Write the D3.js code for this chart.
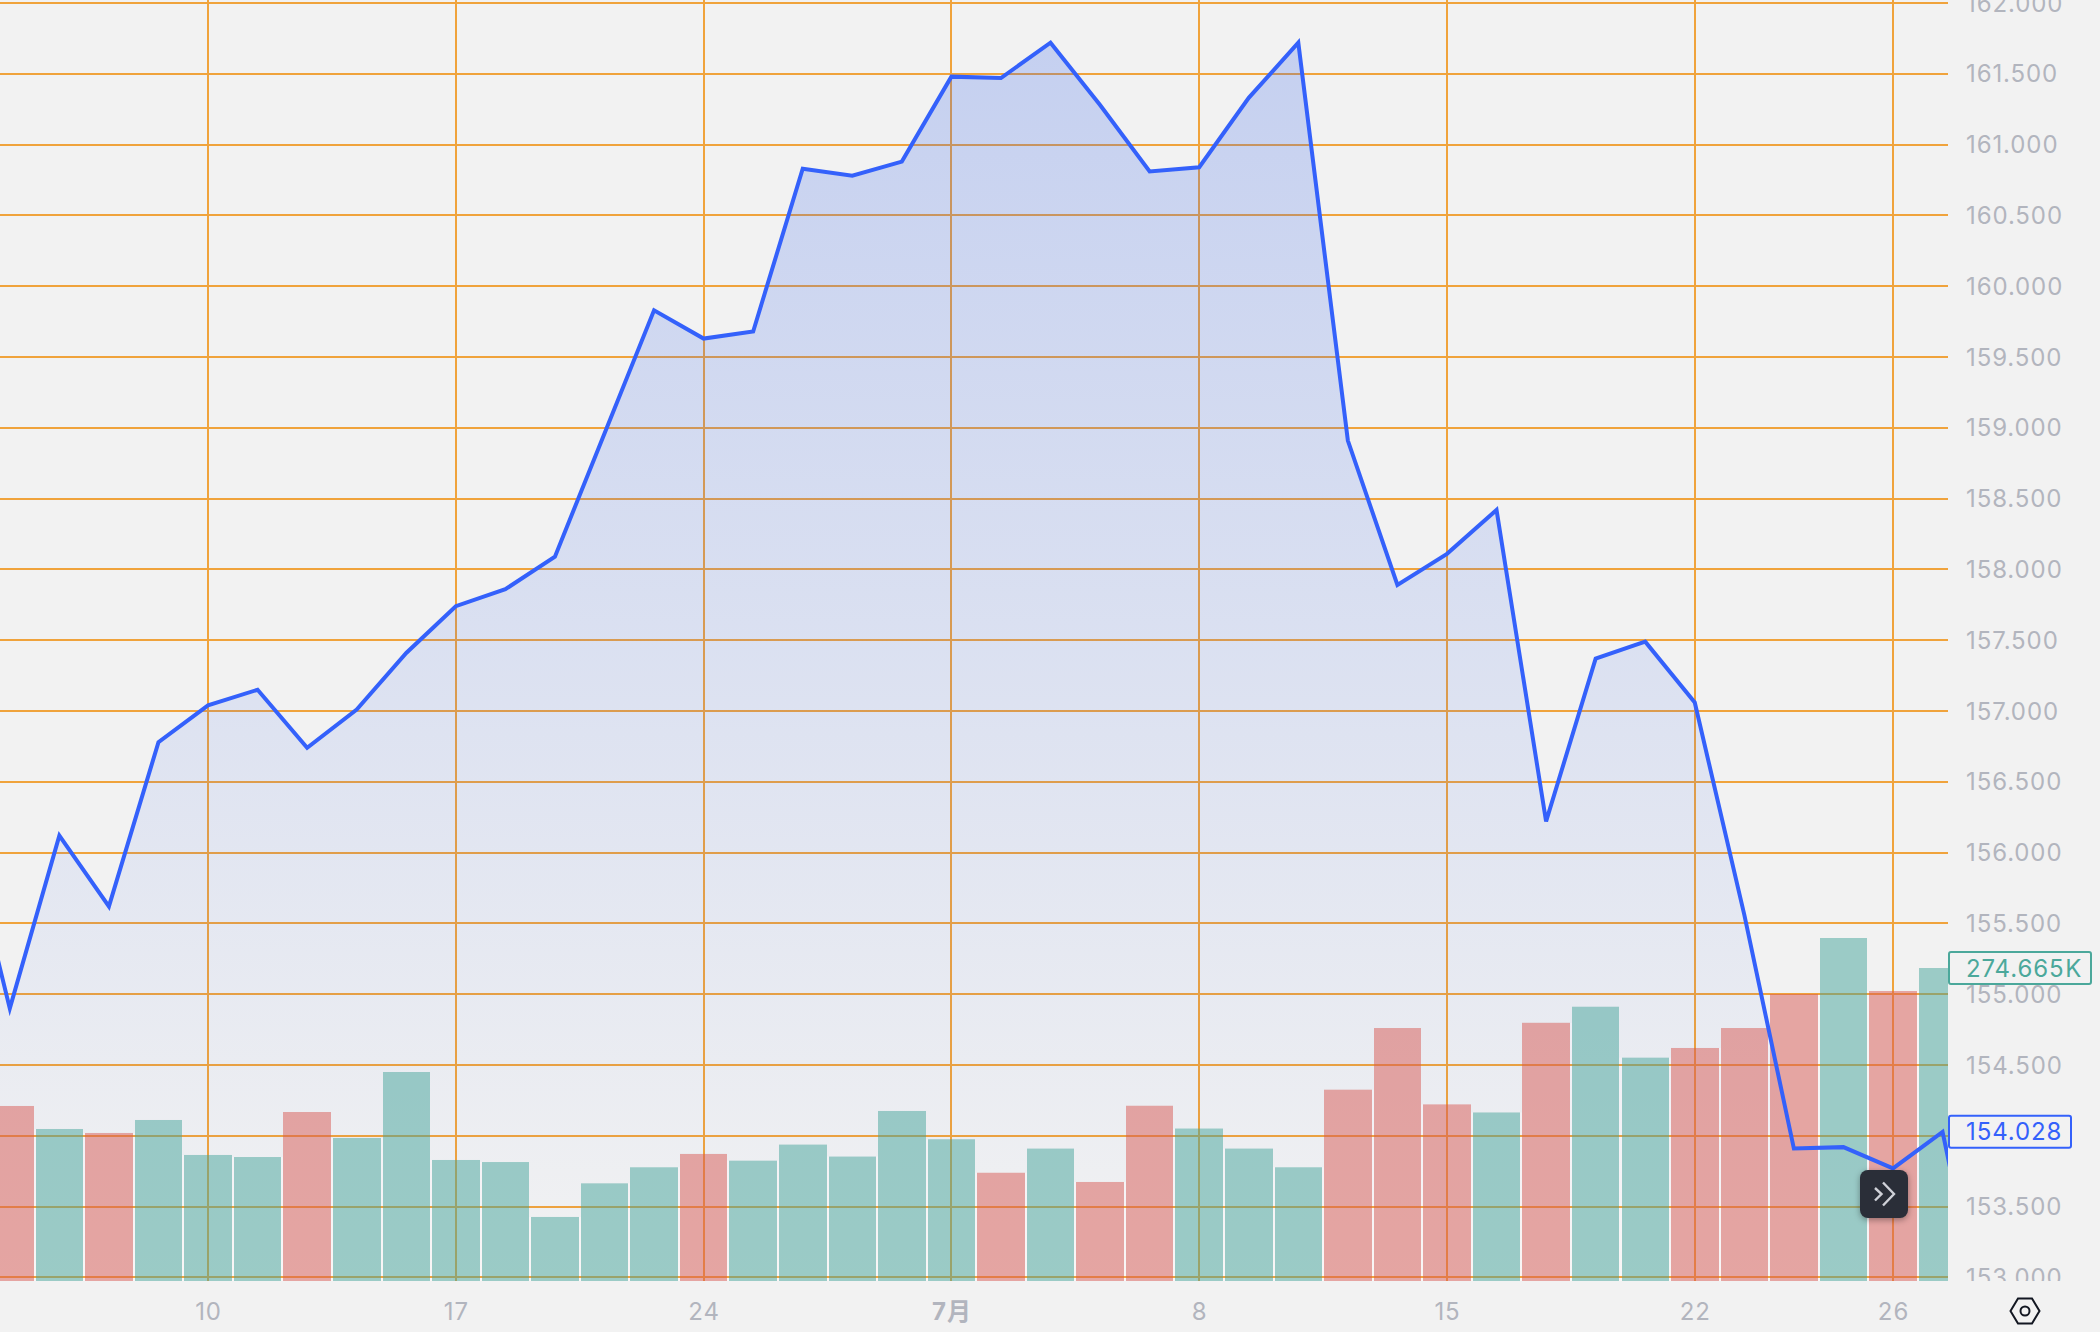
<!DOCTYPE html>
<html lang="ja">
<head>
<meta charset="utf-8">
<title>Chart</title>
<script src="https://cdn.jsdelivr.net/npm/d3@7/dist/d3.min.js"></script>
<style>
html,body{margin:0;padding:0;background:#f2f2f2;}
svg{display:block;}
text{font-family:Inter,"Noto Sans CJK JP",sans-serif;letter-spacing:0.9px;}
</style>
</head>
<body>
<div id="chart"></div>
<script>
// index -1 sits just off the left edge, index 40 just off the right edge
const firstIndex = -1;
const prices = [156.33,154.90,156.12,155.62,156.78,157.04,157.15,156.74,157.01,157.41,157.74,157.86,158.09,158.96,159.83,159.63,159.68,160.83,160.78,160.88,161.48,161.47,161.72,161.28,160.81,160.84,161.33,161.72,158.91,157.89,158.11,158.42,156.22,157.37,157.49,157.06,155.56,153.91,153.92,153.77,154.028,152.36];
const volumes = [153.6,133.4,129.9,141.3,110.6,108.8,148.3,125.5,183.4,106.2,104.4,56.2,85.7,99.8,111.5,105.6,119.7,109.2,149.2,124.4,95.0,116.2,86.9,153.8,133.8,116.2,99.8,167.9,222.0,155.0,147.9,226.6,240.7,196.0,204.5,222.0,251.9,301.0,254.5,274.665];
const volumeDown = [1,0,1,0,0,0,1,0,0,0,0,0,0,0,1,0,0,0,0,0,1,0,1,1,0,0,0,1,1,1,0,1,0,0,1,1,1,0,1,0];
const dateTickIndexes = [4,9,14,19,24,29,34,38];
const dateTickLabels = ["10","17","24","7月","8","15","22","26"];
const priceTicks = d3.range(153,162.01,0.5);
const lastPrice = 154.028;
const lastVolumeLabel = "274.665 K";

const W=2100,H=1332,plotR=1948,plotB=1281;
const x=d3.scaleLinear().domain([0,38]).range([9.8,1893]);
const y=d3.scaleLinear().domain([153,162]).range([1277.4,3]);
const yVol=d3.scaleLinear().domain([0,1124.2]).range([plotB,0]);

const svg=d3.select("#chart").append("svg").attr("width",W).attr("height",H).attr("viewBox",`0 0 ${W} ${H}`);
const defs=svg.append("defs");
defs.append("clipPath").attr("id","plot").append("rect").attr("width",plotR).attr("height",plotB);
defs.append("clipPath").attr("id","axisClip").append("rect").attr("x",plotR).attr("width",W-plotR).attr("height",plotB);
const grad=defs.append("linearGradient").attr("id","areaFill").attr("gradientUnits","userSpaceOnUse")
  .attr("x1",0).attr("x2",0).attr("y1",43).attr("y2",plotB);
grad.append("stop").attr("offset",0).attr("stop-color","rgb(46,94,233)").attr("stop-opacity",0.23);
grad.append("stop").attr("offset",1).attr("stop-color","rgb(46,94,233)").attr("stop-opacity",0);
const sh=defs.append("filter").attr("id","btnShadow").attr("x","-40%").attr("y","-40%").attr("width","180%").attr("height","180%");
sh.append("feDropShadow").attr("dx",0).attr("dy",2).attr("stdDeviation",3).attr("flood-color","#000").attr("flood-opacity",0.35);

svg.append("rect").attr("width",W).attr("height",H).attr("fill","#f2f2f2");

const plot=svg.append("g").attr("clip-path","url(#plot)");

// slim light gaps between neighbouring bars
const barL=i=>Math.round(x(i)-23.7), barR=i=>Math.round(x(i)+23.8);
plot.append("g").selectAll("rect").data(volumes.slice(1)).join("rect")
  .attr("x",(d,i)=>barR(i)).attr("width",(d,i)=>barL(i+1)-barR(i))
  .attr("y",(d,i)=>Math.max(yVol(d),yVol(volumes[i]))).attr("height",(d,i)=>plotB-Math.max(yVol(d),yVol(volumes[i])))
  .attr("fill","#f9f6f6");

// grid (d3 axes place ticks half a pixel off; pull them back on to the scale)
const gridColor="#f0a33c";
const gx=plot.append("g").attr("transform",`translate(-0.5,${plotB+1})`)
  .call(d3.axisBottom(x).tickValues(dateTickIndexes).tickSize(-(plotB+1)).tickFormat(""));
const gy=plot.append("g").attr("transform",`translate(${plotR},-0.5)`)
  .call(d3.axisLeft(y).tickValues(priceTicks).tickSize(plotR).tickFormat(""));
[gx,gy].forEach(g=>{g.select(".domain").remove();g.selectAll("line").attr("stroke",gridColor).attr("stroke-width",2).attr("shape-rendering","crispEdges");});

// area and bars
const pts=prices.map((p,i)=>({i:i+firstIndex,p}));
plot.append("path").datum(pts)
  .attr("d",d3.area().x(d=>x(d.i)).y0(plotB).y1(d=>y(d.p)))
  .attr("fill","url(#areaFill)");
plot.append("g").selectAll("rect").data(volumes).join("rect")
  .attr("x",(d,i)=>barL(i)).attr("width",(d,i)=>barR(i)-barL(i))
  .attr("y",d=>yVol(d)).attr("height",d=>plotB-yVol(d))
  .attr("fill",(d,i)=>volumeDown[i]?"rgba(216,88,82,0.5)":"rgba(68,164,154,0.5)");
plot.append("path").datum(pts)
  .attr("d",d3.line().x(d=>x(d.i)).y(d=>y(d.p)))
  .attr("fill","none").attr("stroke","#3461fb").attr("stroke-width",4).attr("stroke-linejoin","miter");

// axes
const tickColor="#b2b5be", fs=24;
const axY=svg.append("g").attr("clip-path","url(#axisClip)").append("g").attr("transform",`translate(${plotR},0.5)`)
  .call(d3.axisRight(y).tickValues(priceTicks).tickSize(0).tickPadding(18).tickFormat(d3.format(".3f")));
axY.select(".domain").remove();
axY.selectAll("text").attr("fill",tickColor).attr("font-size",fs).attr("font-family",null);
const axX=svg.append("g").attr("transform",`translate(0,${plotB})`)
  .call(d3.axisBottom(x).tickValues(dateTickIndexes).tickSize(0).tickPadding(22).tickFormat((d,i)=>dateTickLabels[i]));
axX.select(".domain").remove();
axX.selectAll("text").attr("fill",tickColor).attr("font-size",fs).attr("font-family",null)
  .attr("font-weight",(d,i)=>dateTickLabels[i].includes("月")?700:400);

// last value labels
function badge(cy,w,color,label){
  svg.append("rect").attr("x",plotR+1).attr("y",cy-16).attr("width",w).attr("height",32).attr("rx",2)
    .attr("fill","#f2f2f2").attr("stroke",color).attr("stroke-width",2);
  svg.append("text").attr("x",plotR+18).attr("y",cy).attr("dy","0.36em").attr("fill",color).attr("font-size",fs)
    .style("word-spacing","-7px").text(label);
}
badge(yVol(volumes[volumes.length-1]),142,"#4ba89b",lastVolumeLabel);
badge(y(lastPrice),122,"#3461fb",d3.format(".3f")(lastPrice));

// scroll button
const btn=svg.append("g").attr("transform","translate(1860,1170)");
btn.append("rect").attr("width",48).attr("height",48).attr("rx",8).attr("fill","#2a2e39").attr("filter","url(#btnShadow)");
btn.append("path").attr("d","M15 18 L21.5 24 L15 30.5 M23 12.5 L34 24 L23 35.5").attr("fill","none").attr("stroke","#cfd1d8").attr("stroke-width",2.4);

// settings icon
const gear=svg.append("g").attr("transform","translate(2025,1311)").attr("fill","none").attr("stroke","#131722").attr("stroke-width",2);
gear.append("path").attr("d","M-14.5 0 L-7 -12.5 L7 -12.5 L14.5 0 L7 12.5 L-7 12.5 Z");
gear.append("circle").attr("r",4.5);
</script>
</body>
</html>
